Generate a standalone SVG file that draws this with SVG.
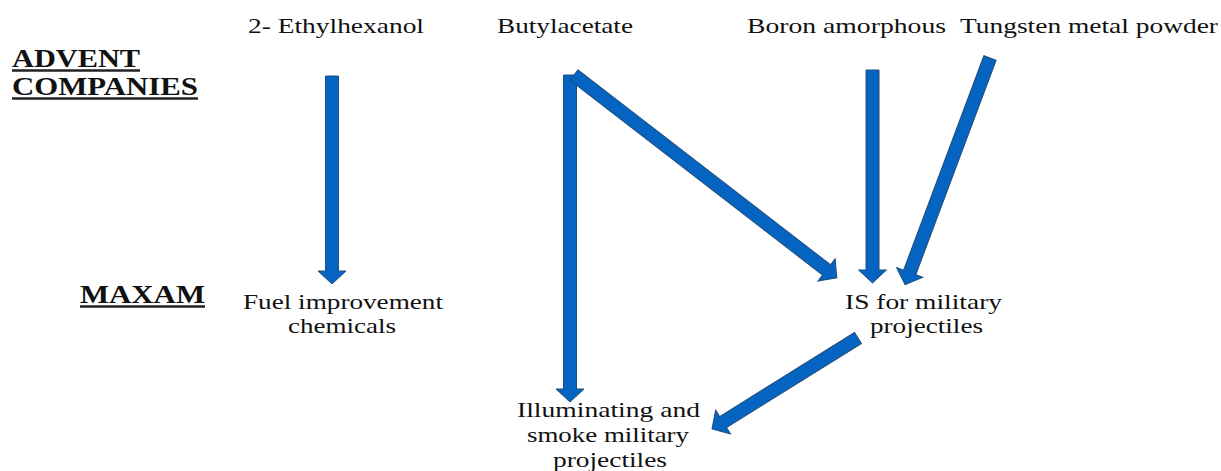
<svg xmlns="http://www.w3.org/2000/svg" width="1221" height="471" viewBox="0 0 1221 471">
<style>
text{font-family:"Liberation Serif","Times New Roman",serif;fill:#111;font-size:21px}
.t{font-weight:bold;font-size:26px}
.u{stroke:#222;stroke-width:2.5}
.a{fill:#0563C1;stroke:#1F4E79;stroke-width:1}
</style>
<rect width="1221" height="471" fill="#fff"/>
<g id="label-advent">
<text class="t" x="12" y="67" textLength="128" lengthAdjust="spacingAndGlyphs">ADVENT</text>
<text class="t" x="12" y="95" textLength="186" lengthAdjust="spacingAndGlyphs">COMPANIES</text>
<line class="u" x1="12" y1="70.5" x2="140" y2="70.5"/>
<line class="u" x1="12" y1="98.5" x2="198" y2="98.5"/>
</g>
<g id="label-maxam">
<text class="t" x="80" y="303" textLength="125" lengthAdjust="spacingAndGlyphs">MAXAM</text>
<line class="u" x1="80" y1="306.5" x2="205" y2="306.5"/>
</g>
<g id="n-ethylhexanol"><text x="248" y="33" textLength="176" lengthAdjust="spacingAndGlyphs">2- Ethylhexanol</text></g>
<g id="n-butylacetate"><text x="497" y="33" textLength="136" lengthAdjust="spacingAndGlyphs">Butylacetate</text></g>
<g id="n-boron"><text x="747" y="33" textLength="199" lengthAdjust="spacingAndGlyphs">Boron amorphous</text></g>
<g id="n-tungsten"><text x="960" y="33" textLength="258" lengthAdjust="spacingAndGlyphs">Tungsten metal powder</text></g>
<g id="n-fuel">
<text x="243" y="309" textLength="200" lengthAdjust="spacingAndGlyphs">Fuel improvement</text>
<text x="288" y="333" textLength="108" lengthAdjust="spacingAndGlyphs">chemicals</text>
</g>
<g id="n-is">
<text x="845" y="309" textLength="157" lengthAdjust="spacingAndGlyphs">IS for military</text>
<text x="870" y="333" textLength="113" lengthAdjust="spacingAndGlyphs">projectiles</text>
</g>
<g id="n-illuminating">
<text x="517" y="417" textLength="183" lengthAdjust="spacingAndGlyphs">Illuminating and</text>
<text x="527" y="442" textLength="162" lengthAdjust="spacingAndGlyphs">smoke military</text>
<text x="553" y="467" textLength="114" lengthAdjust="spacingAndGlyphs">projectiles</text>
</g>
<g id="connectors">
<path class="a" d="M0,-6.5H195V-14L208,0L195,14V6.5H0Z" transform="translate(332,76) rotate(90)"/>
<path class="a" d="M0,-6.5H314V-14L327,0L314,14V6.5H0Z" transform="translate(570,75) rotate(90)"/>
<path class="a" d="M0,-6.5H319V-14L332,0L319,14V6.5H0Z" transform="translate(574,75) rotate(37.66)"/>
<path class="a" d="M0,-6.5H200V-14L213,0L200,14V6.5H0Z" transform="translate(872.5,70) rotate(90)"/>
<path class="a" d="M0,-6.5H229V-14L242,0L229,14V6.5H0Z" transform="translate(990,58) rotate(110.53)"/>
<path class="a" d="M0,-6.5H159V-14L172,0L159,14V6.5H0Z" transform="translate(858,338) rotate(148.07)"/>
</g>
</svg>
